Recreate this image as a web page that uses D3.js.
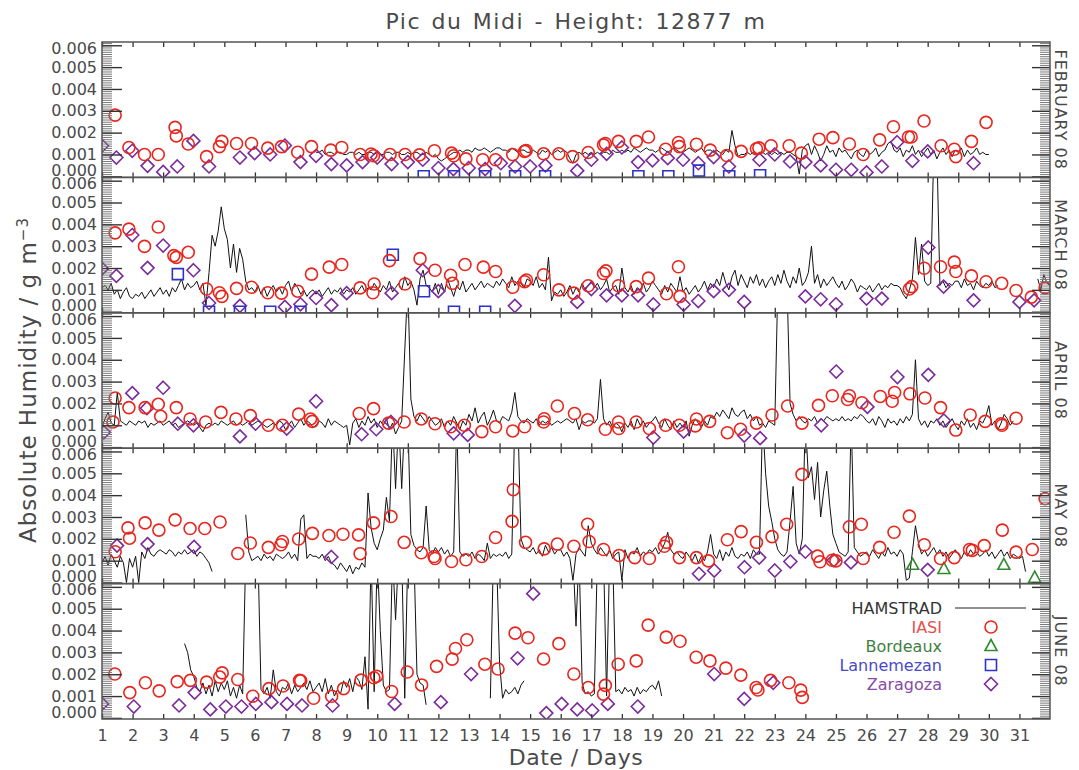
<!DOCTYPE html>
<html><head><meta charset="utf-8">
<script src="https://cdn.jsdelivr.net/npm/d3@7"></script>
<style>
body{margin:0;background:#fff}
svg{display:block}
text{font-family:"DejaVu Sans",sans-serif;fill:#4a4a4a}
</style></head>
<body>
<script>
// ---------------- DATA ----------------
const titleText = "Pic du Midi - Height: 12877 m";
const monthLabels = ["FEBRUARY 08","MARCH 08","APRIL 08","MAY 08","JUNE 08"];
const dayTicks = [1,2,3,4,5,6,7,8,9,10,11,12,13,14,15,16,17,18,19,20,21,22,23,24,25,26,27,28,29,30,31];
const yTickValues = [0,0.001,0.002,0.003,0.004,0.005,0.006];
const yTickLabels = ["0.000","0.001","0.002","0.003","0.004","0.005","0.006"];
const legendNames = ["HAMSTRAD","IASI","Bordeaux","Lannemezan","Zaragoza"];

// HAMSTRAD: values in 1e-4 g m^-3, sampled every 0.1 day from the given start day
const HAM_UNIT = 1e-4, HAM_STEP = 0.1;
const hamFebStart = 8.0;
const hamFeb = [
11,11,12,10,11,11,10,11,11,10, 10,11,11,10,11,10,10,11,11,10, 11,10,10,11,11,10,11,11,10,10,
11,10,11,11,10,10,11,10,9,10, 8,7,8,9,10,11,11,12,11,12, 12,11,13,12,12,13,12,11,12,13,
13,12,12,11,13,12,11,12,12,11, 11,12,11,10,12,11,12,10,11,12, 11,12,11,8,6,10,11,10,11,10,
11,10,11,10,11,11,10,12,11,11, 12,11,12,11,13,12,11,12,13,12, 12,11,12,13,12,11,12,13,12,11,
11,12,13,12,11,12,13,11,12,12, 11,12,11,10,12,11,21,14,9,10, 10,11,10,11,10,11,11,10,11,10,
11,10,11,10,11,11,10,9,1,12, 14,15,10,14,11,7,10,14,11,12, 9,13,11,12,10,8,11,12,10,9,
12,10,11,13,9,11,12,15,16,12, 11,13,9,12,11,14,10,12,9,11, 13,10,12,8,11,13,10,12,9,12,
11,13,9,12,10,11,13,10,11,10, 10];
const hamMarAStart = 1.0;
const hamMarA = [
11,12,10,13,8,10,6,9,11,7, 6,8,7,9,6,8,10,7,9,11, 8,10,7,11,9,12,15,10,13,11,
12,14,10,13,3,18,35,30,37,48, 38,33,20,31,18,29,24,14,10,11, 9,12,8,11,7,10,12,9,11,8,
12,14,9,13,11,8,10,7,9,10, 8,10,7,9,11,8,10,9,11,8, 10,9,11,8,10,12,9,11,10,13,
11,9,12,10,14,9,11,13,10,16, 12,14,10,3,15,19,12,11,9,13, 8,13,9,15,11,7,12,10,14,9,
11,13,10,12,14,11,13,12,11,14, 12,15,13,11,16,12,14,13,11,15, 14,12,16,11,13,10,25,5,9,8,
10,7,9,12,8,11,9,13,10,12, 14,11,13,10,12,15,9,11,12,8, 20,11,9,12,8,11,10,13,9,11,
14,12,10,8,12,9,13,11,9,16, 9,11,8,10,12,9,11,14,10,13, 11,15,12,18,13,10,16,19,12,17,
14,11,16,13,17,12,15,11,14,16, 12,17,13,19,14,11,16,13,20,12, 14,18,30,13,17,11,15,12,14,16,
13,11,14,10,12,15,13,9,12,11, 10,12,9,11,13,10,12,11,13,12, 12,11,8,6,10,15,34,17,31,14,
12,13,75,75,12,14,11,13,12,14, 14,11,15,12,13,10,14,12,11,13, 12,14,11,12];
const hamMarBStart = 31.6;
const hamMarB = [15,10,17,13,12];
const hamAprStart = 1.0;
const hamApr = [
9,13,16,11,10,25,12,11,10,12, 11,10,12,11,12,9,11,10,11,12, 10,11,12,10,11,9,10,11,12,11,
10,11,9,7,10,11,10,11,10,12, 11,10,11,12,10,11,10,11,12,10, 11,12,11,10,9,10,11,10,12,11,
8,10,12,9,11,13,10,12,11,9, 10,12,11,9,13,10,12,11,10,9, 10,1,11,13,9,12,10,14,11,13,
9,12,10,13,8,11,6,9,12,44, 75,22,14,12,15,13,11,14,12,10, 11,13,9,12,10,14,11,8,12,10,
15,12,18,11,14,16,10,13,17,12, 11,14,13,12,16,25,14,12,11,13, 12,11,13,10,12,11,12,10,11,12,
11,12,13,12,11,13,8,12,11,12, 12,11,13,31,13,10,12,9,11,10, 7,11,9,12,8,13,10,12,9,11,
12,14,11,9,13,10,8,12,9,11, 9,12,5,10,13,11,9,12,10,14, 13,16,14,17,15,13,18,15,14,16,
17,13,15,12,14,10,11,9,12,11, 10,75,75,75,75,20,15,12,14,12, 11,13,12,14,11,13,12,14,13,12,
13,12,14,12,13,12,14,13,15,14, 12,11,13,10,14,12,9,13,11,12, 10,13,11,14,12,15,40,13,10,12,
9,12,11,13,10,12,9,11,13,10, 8,12,10,13,9,11,8,12,11,14, 19,10,12,8,11,15,13,10,12];
const hamMayAStart = 1.0;
const hamMayA = [
9,12,8,13,10,7,12,9,0,11, 7,12,0,14,11,16,13,12,14,15, 14,13,15,14,12,14,13,15,13,14,
15,12,14,13,11,9,5];
const hamMayBStart = 5.7;
const hamMayB = [
31,14,10, 11,12,10,13,11,12,10,13,12,11, 12,14,11,13,10,29,31,11,13,12,
12,11,13,10,12,9,8,6,9,7, 5,8,4,7,6,9,7,41,25,18, 15,20,24,39,28,75,43,75,43,75,
75,22,17,15,14,16,35,15,13,16, 14,16,13,15,12,14,75,14,12,13, 12,14,11,13,12,10,18,11,13,12,
13,12,14,11,13,75,75,20,16,15, 14,16,13,15,12,17,14,16,13,15, 15,12,14,11,1,13,16,14,12,26,
18,15,13,16,14,12,15,11,13,14, 1,15,11,14,13,16,12,14,13,15, 14,16,13,15,18,23,15,13,14,12,
11,14,12,10,13,9,12,10,14,22, 13,11,15,10,14,12,16,12,11,13, 12,14,11,15,13,13,75,50,35,28,
20,15,13,12,14,28,44,18,13,20, 75,48,53,38,55,30,42,51,35,22, 18,14,13,12,14,75,16,14,12,13,
14,12,15,13,11,14,12,16,13,14, 12,15,13,1,2,14,26,18,13,15, 12,14,16,13,15,12,14,11,13,15,
13,11,14,12,15,13,14,12,13,15, 12,14,11,13,15,12,14,11,13,12, 11,12,5];
const hamJunAStart = 3.7;
const hamJunA = [
34,30,22, 19,14,12,16,11,15,10,17,12,16, 13,17,10,14,9,15,11,75,75,75,
75,75,13,11,14,9,22,12,10,14, 13,16,11,15,12,14,16,13,17,12, 14,16,12,18,11,15,10,13,11,17,
14,18,12,19,17,13,28,4,75,12, 75,40,15,12,13,75,45,75,75,9, 75,75,75,20,16,15,6];
const hamJunBStart = 13.7;
const hamJunB = [9,75,75, 25,9,13,11,12,14,11,15,17];
const hamJunCStart = 16.4;
const hamJunC = [75,42,75,16,11,12, 10,11,75,75,75,10,75,75,12,13, 11,14,12,13,10,14,11,13,12,14, 15,13,17,10];

// Point series: [day, value in 1e-3 g m^-3]
const MARK_UNIT = 1e-3;
const iasiFeb = [[1.43,2.8],[1.88,1.32],[2.39,1.0],[2.84,1.0],[3.39,2.24],[3.43,1.85],[3.82,1.48],[4.42,0.9],[4.84,1.36],[4.92,1.6],[5.40,1.5],[5.89,1.5],[6.42,1.29],[6.87,1.36],[7.40,1.1],[7.85,1.36],[8.48,1.2],[8.84,1.32],[9.44,1.0],[9.8,1.02],[9.88,0.94],[10.42,1.0],[10.91,1.0],[11.38,0.98],[11.87,1.17],[12.43,1.06],[12.5,0.94],[12.9,0.8],[13.45,0.76],[13.87,0.76],[14.43,1.0],[14.82,1.14],[14.87,1.18],[15.44,1.03],[15.94,1.03],[16.39,0.9],[16.9,1.09],[17.4,1.44],[17.46,1.5],[17.89,1.6],[18.47,1.6],[18.87,1.8],[19.43,1.24],[19.85,1.55],[19.88,1.36],[20.44,1.47],[20.89,1.2],[21.43,0.95],[21.9,1.14],[22.4,1.26],[22.48,1.3],[22.88,1.4],[23.47,1.4],[23.87,1.06],[24.45,1.7],[24.9,1.77],[25.44,1.48],[25.89,1.0],[26.43,1.67],[26.88,2.27],[27.37,1.8],[27.46,1.8],[27.88,2.53],[28.44,1.4],[28.87,1.24],[28.92,0.9],[29.43,1.6],[29.91,2.47]];
const zaraFeb = [[1.0,1.4],[1.47,0.86],[1.99,1.17],[2.49,0.48],[3.0,0.2],[3.46,0.45],[3.99,1.62],[4.5,0.45],[5.51,0.86],[5.99,1.06],[6.5,1.0],[6.98,1.41],[7.49,0.65],[8.0,0.94],[8.5,0.56],[9.0,0.5],[9.52,0.65],[10.0,0.86],[10.47,0.56],[11.0,0.65],[11.49,0.76],[12.0,0.38],[12.49,0.33],[12.99,0.38],[13.53,0.33],[14.04,0.6],[14.51,0.45],[15.0,0.45],[15.5,0.5],[16.54,0.26],[17.0,0.76],[17.5,1.03],[18.0,1.32],[18.53,0.65],[19.0,0.73],[19.5,0.83],[20.0,0.76],[20.5,0.6],[21.0,0.88],[21.5,0.45],[22.5,0.76],[23.0,1.0],[23.5,0.68],[24.0,0.65],[24.5,0.5],[25.0,0.3],[25.5,0.3],[26.0,0.18],[26.5,0.45],[27.0,1.56],[27.5,0.71],[28.0,1.14],[29.5,0.6]];
const lannFeb = [[11.52,0],[12.51,0],[13.53,0],[14.51,0],[15.49,0],[18.54,0],[19.52,0],[20.52,0.26],[21.51,0],[22.52,0.05]];
const bordFeb = [];

const iasiMar = [[1.43,3.61],[1.88,3.78],[2.39,2.99],[2.84,3.88],[3.35,2.57],[3.43,2.49],[3.82,2.72],[4.42,1.04],[4.84,0.87],[4.92,0.7],[5.40,1.07],[5.89,1.12],[6.42,0.87],[6.87,0.85],[7.40,0.94],[7.85,1.72],[8.43,2.04],[8.84,2.16],[9.44,1.09],[9.86,0.87],[9.9,1.27],[10.4,2.34],[10.91,1.27],[11.4,2.43],[11.89,1.9],[12.4,1.67],[12.46,1.3],[12.87,2.16],[13.47,2.04],[13.87,1.84],[14.43,1.12],[14.82,1.37],[14.88,1.45],[15.44,1.69],[15.94,1.0],[16.43,0.85],[16.9,1.19],[17.4,1.75],[17.48,1.87],[17.89,1.19],[18.47,1.15],[18.87,1.54],[19.46,0.82],[19.85,2.06],[19.9,0.7],[27.4,1.04],[27.48,1.15],[27.89,1.99],[28.42,2.06],[28.87,2.27],[28.92,1.84],[29.43,1.64],[29.91,1.37],[30.42,1.3],[30.89,0.97],[31.39,0.67],[31.84,1.09]];
const zaraMar = [[1.0,1.97],[1.47,1.64],[1.99,3.51],[2.49,2.01],[3.0,3.03],[3.99,1.9],[4.5,0.4],[5.51,0.27],[6.98,0.22],[7.49,0.34],[8.0,0.63],[8.5,0.3],[9.0,0.85],[10.47,0.85],[11.49,1.9],[12.0,0.94],[14.5,0.27],[16.54,0.45],[17.0,1.04],[17.5,0.75],[18.0,0.75],[18.53,0.75],[19.03,0.33],[20.02,0.33],[20.5,0.49],[21.0,0.94],[21.5,1.0],[22.0,0.45],[24.0,0.7],[24.5,0.57],[25.0,0.34],[26.0,0.6],[26.5,0.6],[28.02,2.94],[28.52,1.15],[29.5,0.52],[31.0,0.45],[31.48,0.52]];
const lannMar = [[3.48,1.72],[4.5,0],[5.51,0],[6.5,0],[7.49,0],[10.51,2.61],[11.53,0.94],[12.51,0],[13.53,0]];
const bordMar = [];

const iasiApr = [[1.36,1.15],[1.43,2.25],[1.88,1.81],[2.41,1.81],[2.84,1.96],[2.92,1.41],[3.43,1.81],[3.88,1.29],[4.39,1.15],[4.89,1.59],[5.38,1.29],[5.85,1.44],[6.44,1.0],[6.9,1.0],[7.43,1.51],[7.82,1.29],[7.88,1.18],[9.41,1.54],[9.88,1.76],[10.37,1.1],[10.88,1.15],[11.44,1.29],[11.89,1.07],[12.4,0.93],[12.85,1.0],[13.42,0.71],[13.87,0.93],[14.43,0.74],[14.82,0.93],[15.44,1.15],[15.46,1.3],[15.89,1.88],[16.45,1.54],[16.88,1.25],[17.46,0.82],[17.89,1.15],[17.9,0.85],[18.47,1.15],[18.9,0.85],[19.43,1.0],[19.88,1.0],[20.44,1.29],[20.4,0.97],[20.87,1.18],[21.45,0.66],[21.88,0.82],[22.4,1.1],[22.91,1.47],[23.42,1.88],[23.89,1.1],[24.43,1.91],[24.88,2.35],[25.38,2.18],[25.44,2.35],[25.85,2.03],[26.45,2.32],[26.84,2.1],[26.92,2.5],[27.42,2.44],[27.91,2.25],[28.42,1.81],[28.92,0.78],[29.39,1.47],[29.88,1.18],[30.4,1.07],[30.43,1.0],[30.89,1.32]];
const zaraApr = [[1.06,0.68],[1.99,2.47],[2.47,1.78],[3.0,2.72],[3.48,1.07],[3.99,1.0],[5.51,0.49],[6.02,1.07],[7.04,0.85],[8.0,2.1],[9.49,0.59],[9.97,0.82],[10.45,1.15],[12.5,0.63],[12.96,0.56],[19.03,0.44],[20.02,0.71],[22.0,0.53],[22.52,0.41],[24.52,1.0],[25.01,3.46],[26.03,1.84],[27.01,3.21],[28.02,3.31],[28.53,1.22]];
const lannApr = [];
const bordApr = [];

const iasiMay = [[1.43,1.41],[1.85,2.5],[1.9,2.03],[2.41,2.73],[2.86,2.4],[3.39,2.87],[3.88,2.47],[4.36,2.47],[4.86,2.77],[5.44,1.33],[5.85,1.81],[6.44,1.61],[6.85,1.73],[6.9,1.88],[7.43,1.99],[7.88,2.25],[8.42,2.15],[8.88,2.21],[9.39,2.18],[9.44,1.32],[9.88,2.73],[10.45,3.02],[10.88,1.84],[11.44,1.36],[11.86,1.19],[11.89,1.1],[12.43,0.96],[12.9,1.04],[13.42,1.19],[13.87,2.06],[14.41,2.8],[14.45,4.25],[14.85,1.84],[15.46,1.54],[15.89,1.76],[16.43,1.66],[16.88,2.67],[16.93,1.88],[17.4,1.51],[17.91,1.24],[18.42,1.14],[18.9,1.1],[19.39,1.66],[19.46,1.84],[19.88,1.14],[20.44,1.14],[20.83,0.99],[21.45,1.96],[21.9,2.33],[22.4,1.84],[22.91,2.1],[23.39,2.67],[23.89,4.95],[24.4,1.21],[24.48,0.95],[24.88,1.02],[25.0,0.99],[25.44,2.55],[25.83,2.67],[25.89,1.1],[26.43,1.61],[26.9,2.3],[27.4,3.04],[27.89,1.73],[28.42,1.1],[28.87,1.14],[29.37,1.51],[29.46,1.47],[29.85,1.69],[30.44,2.4],[30.89,1.39],[31.42,1.51],[31.84,3.84]];
const zaraMay = [[1.49,1.69],[2.49,1.76],[4.01,1.63],[8.5,1.17],[20.52,0.4],[21.02,0.55],[22.01,0.7],[22.49,1.14],[23.0,0.55],[23.51,0.96],[24.0,1.41],[24.93,1.02],[25.49,0.92],[28.0,0.58]];
const lannMay = [];
const bordMay = [[27.51,0.81],[28.53,0.62],[30.49,0.81],[31.5,0.22]];

const iasiJun = [[1.42,2.01],[1.91,1.16],[2.42,1.61],[2.87,1.24],[3.46,1.66],[3.89,1.72],[4.42,1.64],[4.85,1.87],[4.93,2.06],[5.44,1.76],[5.93,0.99],[6.46,1.34],[6.92,1.46],[7.46,1.72],[7.5,1.7],[7.92,0.9],[8.51,0.99],[8.9,1.34],[9.47,1.73],[9.89,1.84],[9.98,1.91],[10.47,1.21],[10.98,2.1],[11.45,1.51],[11.94,2.36],[12.45,2.69],[12.56,3.18],[12.93,3.58],[13.52,2.46],[13.95,2.24],[14.51,3.88],[14.93,3.67],[15.44,2.7],[15.94,3.4],[16.43,2.01],[16.9,1.39],[17.4,1.09],[17.46,1.49],[17.88,2.46],[18.47,2.61],[18.86,4.25],[19.45,3.7],[19.9,3.51],[20.43,2.78],[20.88,2.61],[21.4,2.28],[21.89,1.96],[22.39,1.39],[22.45,1.28],[22.86,1.72],[23.46,1.61],[23.85,1.27],[23.9,0.94]];
const zaraJun = [[1.0,0.64],[2.04,0.52],[3.52,0.57],[4.03,1.16],[4.54,0.39],[5.05,0.52],[5.56,0.52],[6.03,0.64],[6.54,0.72],[7.05,0.64],[7.54,0.57],[8.54,0.57],[10.57,0.64],[12.08,0.72],[13.07,2.01],[14.59,2.73],[15.1,5.69],[15.53,0.22],[16.03,0.64],[16.54,0.39],[17.03,0.34],[17.54,0.64],[18.52,0.52],[21.02,2.01],[22.0,0.87],[22.95,1.61]];
const lannJun = [];
const bordJun = [];

// ---------------- LAYOUT ----------------
const W = 1079, H = 770;
const X0 = 102, X1 = 1050, TOP = 42, BOT = 719;
const NP = 5, PH = (BOT - TOP) / NP;
const COL = {ham:"#111", iasi:"#e8261e", bord:"#2e8b2e", lann:"#2a32c8", zara:"#7b2c9c"};
const TXT = {ham:"#333", iasi:"#e3504c", bord:"#3f7f3f", lann:"#4a4ac8", zara:"#8a4aa8"};

const panels = [
  {label:monthLabels[0], ham:[[hamFebStart,hamFeb]], iasi:iasiFeb, bord:bordFeb, lann:lannFeb, zara:zaraFeb},
  {label:monthLabels[1], ham:[[hamMarAStart,hamMarA],[hamMarBStart,hamMarB]], iasi:iasiMar, bord:bordMar, lann:lannMar, zara:zaraMar},
  {label:monthLabels[2], ham:[[hamAprStart,hamApr]], iasi:iasiApr, bord:bordApr, lann:lannApr, zara:zaraApr},
  {label:monthLabels[3], ham:[[hamMayAStart,hamMayA],[hamMayBStart,hamMayB]], iasi:iasiMay, bord:bordMay, lann:lannMay, zara:zaraMay},
  {label:monthLabels[4], ham:[[hamJunAStart,hamJunA],[hamJunBStart,hamJunB],[hamJunCStart,hamJunC]], iasi:iasiJun, bord:bordJun, lann:lannJun, zara:zaraJun}
];

const svg = d3.select("body").append("svg").attr("width", W).attr("height", H);
const x = d3.scaleLinear().domain([1, 32]).range([X0, X1]);
const Y_DOMAIN = [-0.00005, 0.00615];

const shapes = {
  iasi: "M6,0A6,6 0 1,1 -6,0A6,6 0 1,1 6,0Z",
  bord: "M0,-6.5L6,4.5L-6,4.5Z",
  lann: "M-5.5,-5.5H5.5V5.5H-5.5Z",
  zara: "M0,-6.5L6.5,0L0,6.5L-6.5,0Z"
};

svg.append("text").attr("x", (X0 + X1) / 2).attr("y", 29).attr("text-anchor", "middle")
  .style("font-size", "22px").style("letter-spacing", "1.5px").style("word-spacing", "2px")
  .text(titleText);

panels.forEach((p, i) => {
  const top = TOP + i * PH, bot = top + PH;
  const y = d3.scaleLinear().domain(Y_DOMAIN).range([bot, top]);
  const cid = "clip" + i;
  svg.append("clipPath").attr("id", cid).append("rect")
    .attr("x", X0).attr("y", top).attr("width", X1 - X0).attr("height", PH);
  const g = svg.append("g").attr("clip-path", `url(#${cid})`);

  // HAMSTRAD line
  const line = d3.line().x(d => x(d[0])).y(d => y(d[1]));
  p.ham.forEach(([start, vals]) => {
    const pts = vals.map((v, k) => [start + k * HAM_STEP, v * HAM_UNIT]);
    g.append("path").datum(pts).attr("d", line)
      .attr("fill", "none").attr("stroke", COL.ham).attr("stroke-width", 1).attr("stroke-linejoin", "round");
  });
  // markers
  ["zara", "lann", "bord", "iasi"].forEach(key => {
    g.selectAll(null).data(p[key]).enter().append("path")
      .attr("d", shapes[key])
      .attr("transform", d => `translate(${x(d[0])},${y(d[1] * MARK_UNIT)})`)
      .attr("fill", "none").attr("stroke", COL[key]).attr("stroke-width", 1.6);
  });

  // minor y ticks (hatch), left and right
  const minor = d3.range(0, 0.00611, 0.0001);
  const ml = svg.append("g").attr("transform", `translate(${X0},0)`)
    .call(d3.axisLeft(y).tickValues(minor).tickSize(-10).tickFormat(""));
  const mr = svg.append("g").attr("transform", `translate(${X1},0)`)
    .call(d3.axisRight(y).tickValues(minor).tickSize(-10).tickFormat(""));
  [ml, mr].forEach(a => { a.select(".domain").remove(); a.selectAll("line").attr("stroke", "#7a7a7a").attr("stroke-width", 1); });

  // major y ticks
  const al = svg.append("g").attr("transform", `translate(${X0},0)`)
    .call(d3.axisLeft(y).tickValues(yTickValues).tickSize(-20).tickPadding(5)
      .tickFormat((d, k) => yTickLabels[k]));
  al.select(".domain").remove();
  al.selectAll("line").attr("stroke", "#333").attr("stroke-width", 1.4);
  al.selectAll("text").style("font-size", "16px").attr("fill", "#4a4a4a")
    .attr("dy", (d, k) => k === 0 ? "-0.05em" : (k === yTickValues.length - 1 ? "0.5em" : "0.32em"));
  const ar = svg.append("g").attr("transform", `translate(${X1},0)`)
    .call(d3.axisRight(y).tickValues(yTickValues).tickSize(-18).tickFormat(""));
  ar.select(".domain").remove();
  ar.selectAll("line").attr("stroke", "#333").attr("stroke-width", 1.4);

  // x ticks top and bottom
  const xb = svg.append("g").attr("transform", `translate(0,${bot})`)
    .call(d3.axisBottom(x).tickValues(dayTicks).tickSize(-5).tickPadding(11)
      .tickFormat(i === NP - 1 ? (d => String(d)) : ""));
  xb.select(".domain").remove();
  xb.selectAll("line").attr("stroke", "#333").attr("stroke-width", 1.3);
  xb.selectAll("text").style("font-size", "16px").attr("fill", "#4a4a4a");
  const xt = svg.append("g").attr("transform", `translate(0,${top})`)
    .call(d3.axisTop(x).tickValues(dayTicks).tickSize(-5).tickFormat(""));
  xt.select(".domain").remove();
  xt.selectAll("line").attr("stroke", "#333").attr("stroke-width", 1.3);

  // frame
  svg.append("rect").attr("x", X0).attr("y", top).attr("width", X1 - X0).attr("height", PH)
    .attr("fill", "none").attr("stroke", "#555").attr("stroke-width", 1.5);

  // month label
  const cy = (top + bot) / 2;
  svg.append("text").attr("transform", `translate(1055,${cy}) rotate(90)`)
    .attr("text-anchor", "middle").style("font-size", "16px").style("letter-spacing", "1px")
    .text(p.label);

  // legend in last panel
  if (i === NP - 1) {
    const lg = svg.append("g");
    const keys = ["ham", "iasi", "bord", "lann", "zara"];
    keys.forEach((k, j) => {
      const ly = 608 + j * 19;
      lg.append("text").attr("x", 942).attr("y", ly + 6).attr("text-anchor", "end")
        .style("font-size", "16px").attr("fill", TXT[k]).style("fill", TXT[k]).text(legendNames[j]);
      if (k === "ham") {
        lg.append("line").attr("x1", 955).attr("x2", 1026).attr("y1", ly).attr("y2", ly)
          .attr("stroke", "#222").attr("stroke-width", 1.2);
      } else {
        lg.append("path").attr("d", shapes[k]).attr("transform", `translate(991,${ly})`)
          .attr("fill", "none").attr("stroke", COL[k]).attr("stroke-width", 1.6);
      }
    });
  }
});

// axis titles
svg.append("text").attr("x", (X0 + X1) / 2).attr("y", 765).attr("text-anchor", "middle")
  .style("font-size", "22px").style("letter-spacing", "0.5px").text("Date / Days");
const yt = svg.append("text").attr("transform", "translate(36,380) rotate(-90)")
  .attr("text-anchor", "middle").style("font-size", "23px").style("letter-spacing", "1px");
yt.append("tspan").text("Absolute Humidity / g m");
yt.append("tspan").attr("dy", "-0.55em").style("font-size", "15px").text("\u22123");
</script>
</body></html>
